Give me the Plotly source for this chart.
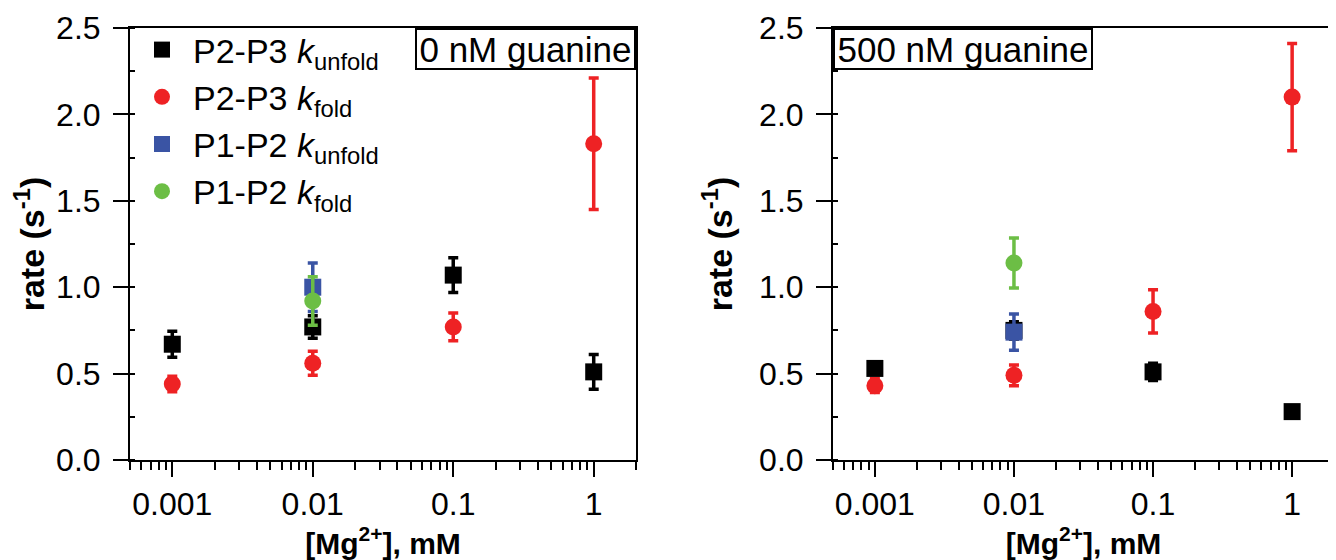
import math
import plotly.graph_objects as go

# ---------------- data ----------------
mg = [0.001, 0.01, 0.1, 1]

# 0 nM guanine
p23_unfold_0 = [0.67, 0.77, 1.07, 0.51]
p23_unfold_0_err = [0.075, 0.065, 0.10, 0.10]
p23_fold_0 = [0.44, 0.56, 0.77, 1.83]
p23_fold_0_err = [0.045, 0.07, 0.08, 0.38]
p12_mg_0 = [0.01]
p12_unfold_0 = [1.00]
p12_unfold_0_err = [0.14]
p12_fold_0 = [0.92]
p12_fold_0_err = [0.14]

# 500 nM guanine
p23_unfold_500 = [0.53, 0.75, 0.51, 0.28]
p23_unfold_500_err = [0.035, 0.05, 0.05, 0.02]
p23_fold_500 = [0.43, 0.49, 0.86, 2.10]
p23_fold_500_err = [0.04, 0.06, 0.125, 0.31]
p12_mg_500 = [0.01]
p12_unfold_500 = [0.74]
p12_unfold_500_err = [0.105]
p12_fold_500 = [1.14]
p12_fold_500_err = [0.145]

names = ["P2-P3 <i>k</i><sub>unfold</sub>", "P2-P3 <i>k</i><sub>fold</sub>",
         "P1-P2 <i>k</i><sub>unfold</sub>", "P1-P2 <i>k</i><sub>fold</sub>"]
panel_labels = ["0 nM guanine", "500 nM guanine"]
x_tick_vals = [0.001, 0.01, 0.1, 1]
x_tick_text = ["0.001", "0.01", "0.1", "1"]

# ---------------- style ----------------
BLACK = "#000000"
RED = "#EE2224"
BLUE = "#3A54A4"
GREEN = "#6CBE45"
FONT = "Liberation Sans, Arial, sans-serif"

# the page body has an 8px default margin; size the figure to fit the window
OFF = 8
W, H = 1336 - OFF, 560 - OFF

def px_x(p):
    return (p - OFF) / W

def px_y(p):
    return 1 - (p - OFF) / H

fig = go.Figure()

def add(xs, ys, errs, color, symbol, name, xa, ya, show):
    fig.add_trace(go.Scatter(
        x=xs, y=ys, mode="markers", name=name, showlegend=show,
        xaxis=xa, yaxis=ya, legendgroup=name,
        marker=dict(color=color, symbol=symbol, size=17, line=dict(width=0)),
        error_y=dict(type="data", array=errs, visible=True, color=color,
                     thickness=3.5, width=5),
    ))

# left panel
add(mg, p23_unfold_0, p23_unfold_0_err, BLACK, "square", names[0], "x", "y", True)
add(mg, p23_fold_0, p23_fold_0_err, RED, "circle", names[1], "x", "y", True)
add(p12_mg_0, p12_unfold_0, p12_unfold_0_err, BLUE, "square", names[2], "x", "y", True)
add(p12_mg_0, p12_fold_0, p12_fold_0_err, GREEN, "circle", names[3], "x", "y", True)
# right panel
add(mg, p23_unfold_500, p23_unfold_500_err, BLACK, "square", names[0], "x2", "y2", False)
add(mg, p23_fold_500, p23_fold_500_err, RED, "circle", names[1], "x2", "y2", False)
add(p12_mg_500, p12_unfold_500, p12_unfold_500_err, BLUE, "square", names[2], "x2", "y2", False)
add(p12_mg_500, p12_fold_500, p12_fold_500_err, GREEN, "circle", names[3], "x2", "y2", False)

minor_vals = []
for d in [0.0001, 0.001, 0.01, 0.1, 1]:
    for m in range(2, 10):
        v = m * d
        if 0.0005 <= v <= 2.0:
            minor_vals.append(v)

def xaxis_cfg(domain, anchor):
    return dict(
        type="log", domain=domain, anchor=anchor, automargin=False,
        range=[math.log10(0.0005), math.log10(2.0)],
        tickmode="array", tickvals=x_tick_vals, ticktext=x_tick_text,
        ticks="outside", ticklen=15, tickwidth=2, tickcolor="black",
        minor=dict(tickmode="array", tickvals=minor_vals, ticks="outside",
                   ticklen=8, tickwidth=2, tickcolor="black"),
        showline=True, linewidth=2, linecolor="black", mirror=True,
        showgrid=False, zeroline=False,
        tickfont=dict(family=FONT, size=32, color="black"),
        title=dict(text="<b>[Mg<sup>2+</sup>], mM</b>",
                   font=dict(family=FONT, size=30, color="black"), standoff=0),
    )

def yaxis_cfg(anchor):
    return dict(
        domain=[px_y(460), px_y(28)], anchor=anchor, automargin=False,
        range=[0, 2.5], tickmode="linear", tick0=0, dtick=0.5, tickformat=".1f",
        ticks="outside", ticklen=15, tickwidth=2, tickcolor="black",
        ticklabelstandoff=6,
        minor=dict(tickmode="linear", tick0=0, dtick=0.25, ticks="inside",
                   ticklen=5, tickwidth=2, tickcolor="black"),
        showline=True, linewidth=2, linecolor="black", mirror=True,
        showgrid=False, zeroline=False,
        tickfont=dict(family=FONT, size=32, color="black"),
        title=dict(text="<b>rate (s<sup>-1</sup>)</b>",
                   font=dict(family=FONT, size=34, color="black"), standoff=16),
    )

fig.update_layout(
    width=W, height=H,
    margin=dict(l=0, r=0, t=0, b=0),
    paper_bgcolor="white", plot_bgcolor="white",
    xaxis=xaxis_cfg([px_x(130), px_x(636)], "y"),
    yaxis=yaxis_cfg("x"),
    xaxis2=xaxis_cfg([px_x(833), px_x(1334)], "y2"),
    yaxis2=yaxis_cfg("x2"),
    legend=dict(x=px_x(131), y=px_y(21), xanchor="left", yanchor="top",
                bgcolor="rgba(0,0,0,0)", borderwidth=0,
                font=dict(family=FONT, size=34, color="black"),
                itemwidth=52, tracegroupgap=0),
    showlegend=True,
)

label_widths = [217, 256]
for i, (xr, yr, xpos, xanch) in enumerate([("x domain", "y domain", 1, "right"),
                                            ("x2 domain", "y2 domain", 0, "left")]):
    fig.add_annotation(
        text=panel_labels[i], xref=xr, yref=yr,
        x=xpos, y=1, xanchor=xanch, yanchor="top", showarrow=False,
        font=dict(family=FONT, size=35, color="black"),
        width=label_widths[i], height=38, borderpad=0,
        bordercolor="black", borderwidth=2, bgcolor="white",
    )

fig.write_html("out.html")
